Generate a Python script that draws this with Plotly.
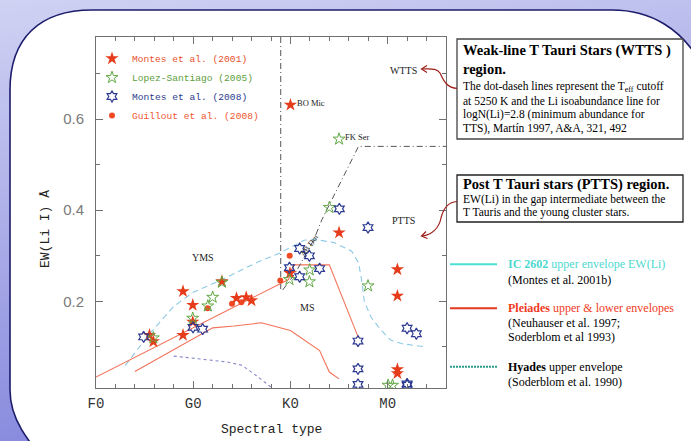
import base64
import plotly.graph_objects as go

# ---------------- data (spectral type: F0=0, G0=10, K0=20, M0=30) ----------------
montes2001_x = [5.5, 5.9, 8.95, 8.95, 9.95, 9.95, 12.95, 14.45, 15.45, 16.0, 19.95, 20.0, 25.0, 31.0, 31.0, 31.0, 31.0]
montes2001_y = [0.126, 0.112, 0.222, 0.126, 0.192, 0.155, 0.244, 0.207, 0.209, 0.202, 0.262, 0.631, 0.351, 0.270, 0.212, 0.051, 0.042]

lopez_x = [5.9, 9.95, 11.5, 12.0, 12.95, 19.9, 21.95, 21.98, 24.0, 25.0, 27.98, 30.05, 30.5]
lopez_y = [0.120, 0.163, 0.190, 0.209, 0.242, 0.248, 0.243, 0.269, 0.406, 0.556, 0.234, 0.016, 0.016]

montes2008_x = [4.9, 9.98, 10.97, 19.9, 20.95, 20.95, 21.95, 23.0, 25.03, 27.98, 26.95, 26.95, 26.95, 32.0, 32.95, 32.0, 32.0]
montes2008_y = [0.122, 0.143, 0.139, 0.274, 0.316, 0.254, 0.300, 0.272, 0.403, 0.362, 0.113, 0.052, 0.018, 0.141, 0.129, 0.016, 0.019]

guillout_x = [11.48, 13.99, 14.95, 18.96, 19.92]
guillout_y = [0.185, 0.195, 0.198, 0.246, 0.300]

ic2602_x = [3.0, 5.4, 8.0, 10.0, 13.0, 16.5, 19.0, 21.4, 22.5, 24.5, 26.3, 27.0, 27.3, 27.6, 28.3, 29.2, 30.3, 31.5, 34.0]
ic2602_y = [0.059, 0.126, 0.189, 0.220, 0.248, 0.285, 0.307, 0.334, 0.336, 0.329, 0.310, 0.285, 0.250, 0.200, 0.165, 0.140, 0.115, 0.107, 0.100]

pleiades_up_x = [0.0, 19.8, 20.3, 24.0, 27.0]
pleiades_up_y = [0.034, 0.248, 0.280, 0.280, 0.120]

pleiades_lo_x = [4.0, 12.0, 14.2, 17.0, 20.0, 23.0, 24.0, 25.0]
pleiades_lo_y = [0.046, 0.142, 0.146, 0.153, 0.136, 0.092, 0.045, 0.030]

hyades_x = [8.0, 11.0, 13.5, 15.0, 16.5, 18.0]
hyades_y = [0.080, 0.073, 0.067, 0.060, 0.037, 0.012]

teff_x = [19.0, 19.0]
teff_y = [0.78, 0.227]
li_x = [19.2, 20.5, 22.4, 23.25, 27.0, 36.0]
li_y = [0.225, 0.262, 0.335, 0.380, 0.540, 0.540]

x_tickvals = [0, 10, 20, 30]
x_ticktext = ["F0", "G0", "K0", "M0"]
y_tickvals = [0.2, 0.4, 0.6]
y_ticktext = ["0.2", "0.4", "0.6"]

# ---------------- geometry helpers ----------------
W, H = 691, 441
L, R, T, B = 96, 245, 37, 53
PW, PH = W - L - R, H - T - B


def px(x):
    return (x - L) / PW


def py(y):
    return (H - B - y) / PH


SERIF = "Liberation Serif"
MONO = "Liberation Mono"

fig = go.Figure()

# envelopes / reference lines
fig.add_trace(go.Scatter(x=ic2602_x, y=ic2602_y, mode="lines", showlegend=False,
                         line=dict(color="#8ec9e6", width=1.1, dash="6px,4px")))
fig.add_trace(go.Scatter(x=pleiades_up_x, y=pleiades_up_y, mode="lines", showlegend=False,
                         line=dict(color="#f2735a", width=1.1)))
fig.add_trace(go.Scatter(x=pleiades_lo_x, y=pleiades_lo_y, mode="lines", showlegend=False,
                         line=dict(color="#f2735a", width=1.1)))
fig.add_trace(go.Scatter(x=hyades_x, y=hyades_y, mode="lines", showlegend=False,
                         line=dict(color="#8585cc", width=1.1, dash="dot")))
fig.add_trace(go.Scatter(x=teff_x, y=teff_y, mode="lines", showlegend=False,
                         line=dict(color="#555555", width=1, dash="6px,3px,1px,3px")))
fig.add_trace(go.Scatter(x=li_x, y=li_y, mode="lines", showlegend=False,
                         line=dict(color="#555555", width=1, dash="6px,3px,1px,3px")))

# data points
fig.add_trace(go.Scatter(x=guillout_x, y=guillout_y, mode="markers", legendrank=4,
                         name='<span style="color:#f0552e">Guillout et al. (2008)</span>',
                         marker=dict(symbol="circle", size=6, color="#f04a24")))
fig.add_trace(go.Scatter(x=montes2001_x, y=montes2001_y, mode="markers", legendrank=1,
                         name='<span style="color:#e8502c">Montes et al. (2001)</span>',
                         marker=dict(symbol="star", size=10, color="#e63c1c", line=dict(width=0))))
fig.add_trace(go.Scatter(x=lopez_x, y=lopez_y, mode="markers", legendrank=2,
                         name='<span style="color:#5c9e3c">Lopez-Santiago (2005)</span>',
                         marker=dict(symbol="star-open", size=9, color="#62a845", line=dict(width=1))))
fig.add_trace(go.Scatter(x=montes2008_x, y=montes2008_y, mode="markers", legendrank=3,
                         name='<span style="color:#2b3a8c">Montes et al. (2008)</span>',
                         marker=dict(symbol="hexagram-open", size=8.5, color="#2b3990", line=dict(width=1.2))))

# ---------------- background (gradient + rounded white panel) ----------------
svg = '''<svg xmlns="http://www.w3.org/2000/svg" width="691" height="441" viewBox="0 0 691 441">
<defs><linearGradient id="g" x1="0" y1="0" x2="0.25" y2="1">
<stop offset="0" stop-color="#d0d2f3"/><stop offset="1" stop-color="#8587dd"/></linearGradient></defs>
<rect width="691" height="441" fill="url(#g)"/>
<path d="M 10,90 C 10,38 40,10 92,10 L 612,10 C 652,10 682,30 700,62 L 700,470 L 52,470 C 28,441 10,420 10,390 Z" fill="#ffffff" stroke="#1c1c6c" stroke-width="1.6"/>
</svg>'''
src = "data:image/svg+xml;base64," + base64.b64encode(svg.encode()).decode()
images = [dict(source=src, xref="paper", yref="paper", x=px(0), y=py(0), sizex=W / PW, sizey=H / PH,
               xanchor="left", yanchor="top", sizing="stretch", layer="below")]

shapes = []
annotations = []


def ann(text, x, y, size, color="#000000", family=SERIF, xanchor="left", xref="paper", yref="paper", angle=0):
    if xref == "paper":
        x = px(x)
    if yref == "paper":
        y = py(y)
    annotations.append(dict(text=text, x=x, y=y, xref=xref, yref=yref, showarrow=False,
                            xanchor=xanchor, yanchor="middle", textangle=angle,
                            font=dict(family=family, size=size, color=color)))


# axis titles
ann("Spectral type", 271, 429, 13, "#222222", MONO, xanchor="center")
ann("EW(Li I) Å", 45, 229, 13, "#222222", MONO, xanchor="center", angle=-90)

# in-plot labels
ann("YMS", 10.97, 0.297, 10, "#222222", SERIF, "center", "x", "y")
ann("MS", 21.7, 0.187, 10, "#222222", SERIF, "center", "x", "y")
ann("PTTS", 31.65, 0.377, 10, "#222222", SERIF, "center", "x", "y")
ann("WTTS", 31.65, 0.706, 10, "#222222", SERIF, "center", "x", "y")
ann("BO Mic", 20.5, 0.636, 8.5, "#222222", SERIF, "left", "x", "y")
ann("FK Ser", 25.45, 0.561, 8.5, "#222222", SERIF, "left", "x", "y")
ann("AB Dor", 21.97, 0.322, 8, "#222222", SERIF, "center", "x", "y", angle=-55)

# info boxes
shapes.append(dict(type="rect", xref="paper", yref="paper", x0=px(457), x1=px(683), y0=py(39), y1=py(139),
                   line=dict(color="#444444", width=1.3), fillcolor="#ffffff", layer="above"))
shapes.append(dict(type="rect", xref="paper", yref="paper", x0=px(457), x1=px(683), y0=py(175), y1=py(222),
                   line=dict(color="#222222", width=1.3), fillcolor="#ffffff", layer="above"))
ann("<b>Weak-line T Tauri Stars (WTTS )</b>", 461, 50, 14.5)
ann("<b>region.</b>", 461, 68.5, 14.5)
ann("The dot-daseh lines represent the T<sub>eff</sub> cutoff", 461, 87, 11.5)
ann("at 5250 K and the Li isoabundance line for", 461, 101, 11.5)
ann("logN(Li)=2.8 (minimum abundance for", 461, 114.5, 11.5)
ann("TTS), Martín 1997, A&A, 321, 492", 461, 128, 11.5)
ann("<b>Post T Tauri stars (PTTS) region.</b>", 461, 184.5, 14.5)
ann("EW(Li) in the gap intermediate between the", 461, 199, 11.5)
ann("T Tauris and the young cluster stars.", 461, 213, 11.5)

# right-hand key
shapes.append(dict(type="line", xref="paper", yref="paper", x0=px(450), x1=px(497), y0=py(264.3), y1=py(264.3),
                   line=dict(color="#48e0d2", width=2)))
shapes.append(dict(type="line", xref="paper", yref="paper", x0=px(450), x1=px(497), y0=py(308.3), y1=py(308.3),
                   line=dict(color="#e23a1e", width=2)))
shapes.append(dict(type="line", xref="paper", yref="paper", x0=px(450), x1=px(497), y0=py(366.7), y1=py(366.7),
                   line=dict(color="#2a9a8a", width=2, dash="2px,1px")))
ann('<b>IC 2602</b> upper envelope EW(Li)', 505.5, 264, 12, "#4ed8d0")
ann("(Montes et al. 2001b)", 505.5, 280, 12)
ann('<b>Pleiades</b> upper &amp; lower envelopes', 505.5, 308, 12, "#f03a1e")
ann("(Neuhauser et al. 1997;", 505.5, 323, 12)
ann("Soderblom et al 1993)", 505.5, 337, 12)
ann('<b>Hyades</b> upper envelope', 505.5, 366.5, 12)
ann("(Soderblom et al. 1990)", 505.5, 381.5, 12)


# curved arrows
def path_px(d):
    out = []
    for tok in d.split():
        if "," in tok:
            a, b = tok.split(",")
            out.append(f"{px(float(a)):.5f},{py(float(b)):.5f}")
        else:
            out.append(tok)
    return " ".join(out)


ARC = "#9c1e18"
shapes.append(dict(type="path", xref="paper", yref="paper",
                   path=path_px("M 457,88.3 C 446,88 443,79 440,73 C 437,68 431,69 422,69"),
                   line=dict(color=ARC, width=1.2)))
shapes.append(dict(type="path", xref="paper", yref="paper",
                   path=path_px("M 427,65.5 L 421.5,69 L 427,72.5"), line=dict(color=ARC, width=1.2)))
shapes.append(dict(type="path", xref="paper", yref="paper",
                   path=path_px("M 457,201.5 C 447,202 443,210 441,218 C 439,228 432,235 422,236"),
                   line=dict(color=ARC, width=1.2)))
shapes.append(dict(type="path", xref="paper", yref="paper",
                   path=path_px("M 426,231.5 L 421.5,236 L 427.5,238.5"), line=dict(color=ARC, width=1.2)))

AX = "#707070"
fig.update_layout(
    width=W, height=H,
    margin=dict(l=L, r=R, t=T, b=B, pad=0),
    paper_bgcolor="#c0c2ee",
    plot_bgcolor="#ffffff",
    images=images,
    shapes=shapes,
    annotations=annotations,
    showlegend=True,
    legend=dict(x=px(92), y=py(44), xanchor="left", yanchor="top", bgcolor="rgba(0,0,0,0)",
                font=dict(family=MONO, size=9.6), itemsizing="trace", tracegroupgap=0, traceorder="normal"),
    xaxis=dict(range=[0, 36], tickmode="array", tickvals=x_tickvals, ticktext=x_ticktext,
               ticks="inside", ticklen=7, tickcolor=AX, tickwidth=1,
               showline=True, linecolor=AX, linewidth=1, mirror="allticks",
               showgrid=False, zeroline=False,
               tickfont=dict(family=MONO, size=14, color="#333333"), ticklabelstandoff=2,
               minor=dict(tickmode="linear", tick0=0, dtick=2, ticks="inside", ticklen=4, tickcolor=AX)),
    yaxis=dict(range=[0.01, 0.78], tickmode="array", tickvals=y_tickvals, ticktext=y_ticktext,
               ticks="inside", ticklen=7, tickcolor=AX, tickwidth=1,
               showline=True, linecolor=AX, linewidth=1, mirror="allticks",
               showgrid=False, zeroline=False,
               tickfont=dict(family="Liberation Sans", size=15, color="#7a7a7a"), ticklabelstandoff=8,
               minor=dict(tickmode="linear", tick0=0, dtick=0.1, ticks="inside", ticklen=4, tickcolor=AX)),
)

fig.write_html("out.html")
